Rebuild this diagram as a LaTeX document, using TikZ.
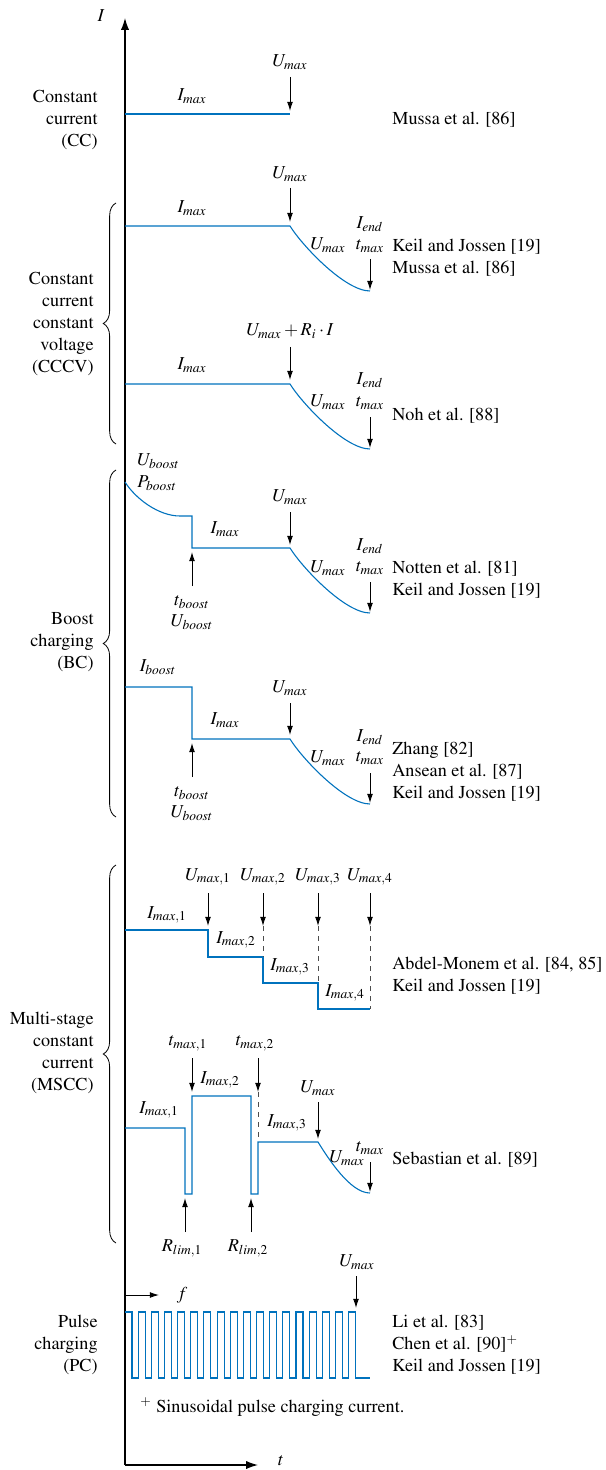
\documentclass[tikz,border=0pt]{standalone}
\usepackage[T1]{fontenc}
\usepackage{mathptmx}
\usetikzlibrary{arrows.meta,decorations.pathreplacing}
\definecolor{curblue}{RGB}{0,114,189}

\begin{document}
\begin{tikzpicture}[x=0.55pt,y=-0.55pt,
  cur/.style={color=curblue, line width=0.6pt},
  arr/.style={-{Latex[length=5pt,width=3.2pt]}, line width=0.5pt},
  axis/.style={-{Latex[length=6.5pt,width=4.5pt]}, line width=0.7pt},
  dsh/.style={dash pattern=on 3pt off 2.5pt, line width=0.5pt, black!70},
  brc/.style={decorate, decoration={brace, amplitude=7pt}, line width=0.45pt},
  grp/.style={anchor=east, align=right},
  refs/.style={anchor=west, align=left},
  every node/.style={inner sep=0pt}]

\useasboundingbox (0,0) rectangle (605,1470);

% axes
\path (125,1465) coordinate (orig) (125,18) coordinate (itop) (258,1465) coordinate (tend);
\draw[axis] (orig) -- (itop);
\draw[axis] (orig) -- (tend);
\path (101,16) node (ilab) {$I$};
\path (281,1461) node (tlab) {$t$};

% CC
\path (125,114) coordinate (cc-s) +(165,0) coordinate (cc-k);
\path (cc-k) +(0,-3) coordinate (cc-ah) +(0,-37) coordinate (cc-at) +(0,-52) node (cc-umax) {$U_{max}$};
\path (cc-s) +(67,-18) node (cc-imax) {$I_{max}$};
\draw[cur] (cc-s) -- (cc-k);
\draw[arr] (cc-at) -- (cc-ah);
\path (98,120) node[grp] (cc-name) {Constant\\current\\(CC)};
\path (392,120) node[refs] (cc-ref) {Mussa et al. [86]};

% CCCV
\path (125,226) coordinate (cv1-s) +(165,0) coordinate (cv1-k) +(245,65) coordinate (cv1-e);
\draw[cur] (cv1-s) -- (cv1-k) .. controls +(12.5,20) and +(-25,0) .. (cv1-e);
\path (cv1-k) +(0,-4) coordinate (cv1-ah) +(0,-38) coordinate (cv1-at) +(0,-52) node (cv1-umax) {$U_{max}$};
\path (cv1-s) +(67,-18) node (cv1-imax) {$I_{max}$};
\path (cv1-e) +(0,-67) node (cv1-iend) {$I_{end}$} +(0,-45) node (cv1-tmax) {$t_{max}$}
  +(-42,-46) node (cv1-ucv) {$U_{max}$} +(0,-32) coordinate (cv1-bt) +(0,-1) coordinate (cv1-bh);
\draw[arr] (cv1-at) -- (cv1-ah);
\draw[arr] (cv1-bt) -- (cv1-bh);
\path (392,258) node[refs] (cv1-ref) {Keil and Jossen [19]\\Mussa et al. [86]};

\path (125,384) coordinate (cv2-s) +(165,0) coordinate (cv2-k) +(245,65) coordinate (cv2-e);
\draw[cur] (cv2-s) -- (cv2-k) .. controls +(12.5,20) and +(-25,0) .. (cv2-e);
\path (cv2-k) +(0,-4) coordinate (cv2-ah) +(0,-37) coordinate (cv2-at) +(0,-53) node (cv2-umax) {$U_{max} + R_i \cdot I$};
\path (cv2-s) +(67,-19) node (cv2-imax) {$I_{max}$};
\path (cv2-e) +(0,-69) node (cv2-iend) {$I_{end}$} +(0,-46) node (cv2-tmax) {$t_{max}$}
  +(-42,-47) node (cv2-ucv) {$U_{max}$} +(0,-32) coordinate (cv2-bt) +(0,-1) coordinate (cv2-bh);
\draw[arr] (cv2-at) -- (cv2-ah);
\draw[arr] (cv2-bt) -- (cv2-bh);
\path (392,416) node[refs] (cv2-ref) {Noh et al. [88]};

\path (116,444) coordinate (cv-b0) (116,203) coordinate (cv-b1);
\draw[brc] (cv-b0) -- (cv-b1);
\path (94,324) node[grp] (cv-name) {Constant\\current\\constant\\voltage\\(CCCV)};

% BC
\path (125,482) coordinate (bc1-s) (180,516) coordinate (bc1-f) (192,516) coordinate (bc1-d)
  (192,548) coordinate (bc1-j) (290,548) coordinate (bc1-k) (370,613) coordinate (bc1-e);
\draw[cur] (bc1-s) .. controls +(10,16) and +(-22,0) .. (bc1-f) -- (bc1-d) -- (bc1-j) -- (bc1-k)
  .. controls +(12.5,20) and +(-25,0) .. (bc1-e);
\path (137,472) node[anchor=west, align=left] (bc1-boost) {$U_{boost}$\\$P_{boost}$};
\path (bc1-j) +(33,-19) node (bc1-imax) {$I_{max}$};
\path (bc1-k) +(0,-3) coordinate (bc1-ah) +(0,-36) coordinate (bc1-at) +(0,-51) node (bc1-umax) {$U_{max}$};
\path (bc1-e) +(0,-67) node (bc1-iend) {$I_{end}$} +(0,-45) node (bc1-tmax) {$t_{max}$}
  +(-42,-45) node (bc1-ucv) {$U_{max}$} +(0,-31) coordinate (bc1-bt) +(0,-1) coordinate (bc1-bh);
\path (bc1-j) +(0,38) coordinate (bc1-ct) +(0,4) coordinate (bc1-ch)
  +(0,54) node (bc1-tb) {$t_{boost}$} +(0,74) node (bc1-ub) {$U_{boost}$};
\draw[arr] (bc1-at) -- (bc1-ah);
\draw[arr] (bc1-bt) -- (bc1-bh);
\draw[arr] (bc1-ct) -- (bc1-ch);
\path (392,580) node[refs] (bc1-ref) {Notten et al. [81]\\Keil and Jossen [19]};

\path (125,687) coordinate (bc2-s) (192,687) coordinate (bc2-d)
  (192,739) coordinate (bc2-j) (290,739) coordinate (bc2-k) (370,804) coordinate (bc2-e);
\draw[cur] (bc2-s) -- (bc2-d) -- (bc2-j) -- (bc2-k) .. controls +(12.5,20) and +(-25,0) .. (bc2-e);
\path (158,667) node (bc2-iboost) {$I_{boost}$};
\path (bc2-j) +(33,-19) node (bc2-imax) {$I_{max}$};
\path (bc2-k) +(0,-4) coordinate (bc2-ah) +(0,-36) coordinate (bc2-at) +(0,-51) node (bc2-umax) {$U_{max}$};
\path (bc2-e) +(0,-67) node (bc2-iend) {$I_{end}$} +(0,-46) node (bc2-tmax) {$t_{max}$}
  +(-42,-46) node (bc2-ucv) {$U_{max}$} +(0,-31) coordinate (bc2-bt) +(0,-1) coordinate (bc2-bh);
\path (bc2-j) +(0,38) coordinate (bc2-ct) +(0,4) coordinate (bc2-ch)
  +(0,54) node (bc2-tb) {$t_{boost}$} +(0,74) node (bc2-ub) {$U_{boost}$};
\draw[arr] (bc2-at) -- (bc2-ah);
\draw[arr] (bc2-bt) -- (bc2-bh);
\draw[arr] (bc2-ct) -- (bc2-ch);
\path (392,772) node[refs] (bc2-ref) {Zhang [82]\\Ansean et al. [87]\\Keil and Jossen [19]};

\path (116,817) coordinate (bc-b0) (116,470) coordinate (bc-b1);
\draw[brc] (bc-b0) -- (bc-b1);
\path (94,642) node[grp] (bc-name) {Boost\\charging\\(BC)};

% MSCC
\path (125,930) coordinate (m1-s) (208,930) coordinate (m1-a) (208,957) coordinate (m1-b)
  (263,957) coordinate (m1-c) (263,983) coordinate (m1-d) (318,983) coordinate (m1-e)
  (318,1009) coordinate (m1-f) (370,1009) coordinate (m1-g);
\draw[cur] (m1-s) -- (m1-a) -- (m1-b) -- (m1-c) -- (m1-d) -- (m1-e) -- (m1-f) -- (m1-g);
\foreach \x/\n in {208/1,263/2,318/3,370/4} {
  \path (\x,877) node (m1-u\n) {$U_{max,\n}$} (\x,893) coordinate (m1-t\n) (\x,926) coordinate (m1-h\n);
  \draw[arr] (m1-t\n) -- (m1-h\n);
}
\draw[dsh] (m1-h2) -- (m1-c);
\draw[dsh] (m1-h3) -- (m1-e);
\draw[dsh] (m1-h4) -- (m1-g);
\path (167,915) node (m1-i1) {$I_{max,1}$};
\path (236,940) node (m1-i2) {$I_{max,2}$};
\path (290,967) node (m1-i3) {$I_{max,3}$};
\path (345,993) node (m1-i4) {$I_{max,4}$};
\path (392,976) node[refs] (m1-ref) {Abdel-Monem et al. [84, 85]\\Keil and Jossen [19]};

\path (125,1128) coordinate (m2-s) (185,1128) coordinate (m2-a) (185,1194) coordinate (m2-b)
  (192,1194) coordinate (m2-c) (192,1096) coordinate (m2-d) (251,1096) coordinate (m2-e)
  (251,1194) coordinate (m2-f) (258,1194) coordinate (m2-g) (258,1142) coordinate (m2-h)
  (318,1142) coordinate (m2-k) (370,1193) coordinate (m2-z);
\draw[cur] (m2-s) -- (m2-a) -- (m2-b) -- (m2-c) -- (m2-d) -- (m2-e) -- (m2-f) -- (m2-g) -- (m2-h)
  -- (m2-k) .. controls +(10,16) and +(-20,0) .. (m2-z);
\path (188,1043) node (m2-t1) {$t_{max,1}$} (192,1058) coordinate (m2-t1a) (192,1092) coordinate (m2-t1b);
\path (255,1043) node (m2-t2) {$t_{max,2}$} (258,1058) coordinate (m2-t2a) (258,1092) coordinate (m2-t2b);
\draw[arr] (m2-t1a) -- (m2-t1b);
\draw[arr] (m2-t2a) -- (m2-t2b);
\draw[dsh] (m2-t2b) -- (m2-h);
\path (159,1110) node (m2-i1) {$I_{max,1}$};
\path (220,1080) node (m2-i2) {$I_{max,2}$};
\path (287,1123) node (m2-i3) {$I_{max,3}$};
\path (m2-k) +(0,-54) node (m2-umax) {$U_{max}$} +(0,-40) coordinate (m2-ua) +(0,-3) coordinate (m2-ub);
\draw[arr] (m2-ua) -- (m2-ub);
\path (m2-z) +(0,-45) node (m2-tmax) {$t_{max}$} +(-23,-35) node (m2-ucv) {$U_{max}$}
  +(0,-31) coordinate (m2-za) +(0,-1) coordinate (m2-zb);
\draw[arr] (m2-za) -- (m2-zb);
\path (m2-b) +(0,38) coordinate (m2-r1a) +(0,4) coordinate (m2-r1b) +(-3,54) node (m2-r1) {$R_{lim,1}$};
\path (m2-f) +(0,38) coordinate (m2-r2a) +(0,4) coordinate (m2-r2b) +(-3,54) node (m2-r2) {$R_{lim,2}$};
\draw[arr] (m2-r1a) -- (m2-r1b);
\draw[arr] (m2-r2a) -- (m2-r2b);
\path (392,1160) node[refs] (m2-ref) {Sebastian et al. [89]};

\path (116,1243) coordinate (m-b0) (116,865) coordinate (m-b1);
\draw[brc] (m-b0) -- (m-b1);
\path (94,1053) node[grp] (m-name) {Multi-stage\\constant\\current\\(MSCC)};

% PC
\path (125,1295) coordinate (pc-fa) (159,1295) coordinate (pc-fb) (182,1295) node (pc-f) {$f$};
\draw[arr] (pc-fa) -- (pc-fb);
\path (125,1312) coordinate (pc-s) (370,1378) coordinate (pc-e);
\draw[cur] (pc-s) \foreach \k in {1,...,17} { -- ++(7,0) -- ++(0,66) -- ++(6.15,0) -- ++(0,-66) }
  -- ++(7,0) -- ++(0,66) -- (pc-e);
\path (357,1262) node (pc-umax) {$U_{max}$} (356,1276) coordinate (pc-ua) (356,1308) coordinate (pc-ub);
\draw[arr] (pc-ua) -- (pc-ub);
\path (98,1345) node[grp] (pc-name) {Pulse\\charging\\(PC)};
\path (392,1345) node[refs] (pc-ref) {Li et al. [83]\\Chen et al. [90]$^{+}$\\Keil and Jossen [19]};
\path (140,1407) node[anchor=west] (pc-note) {$^{+}$ Sinusoidal pulse charging current.};

\end{tikzpicture}
\end{document}
